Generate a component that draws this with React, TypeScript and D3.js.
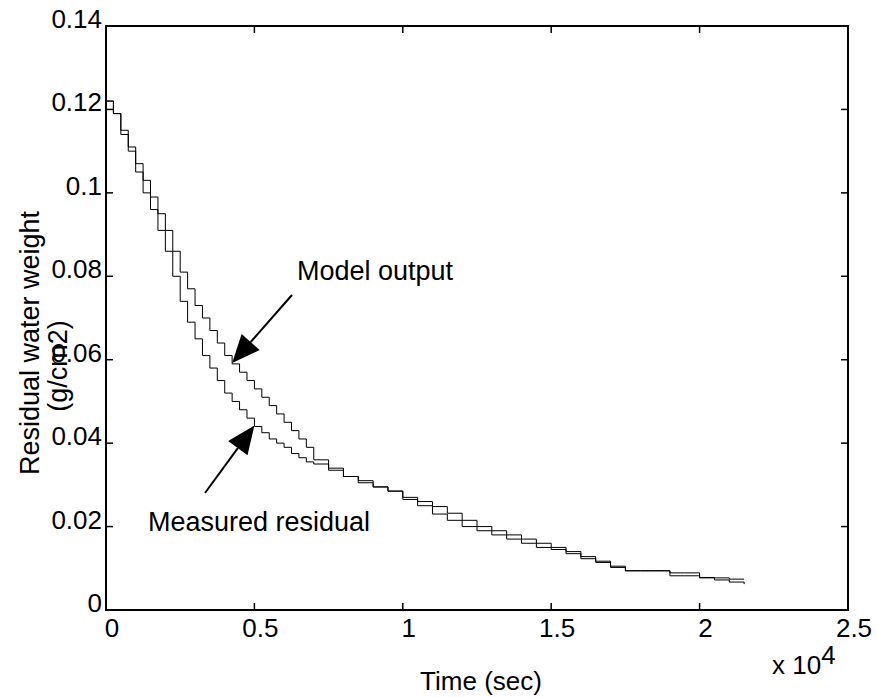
import { useEffect, useRef } from "react";
import * as d3 from "d3";

// time in seconds
const time = [
  0, 250, 500, 750, 1000, 1250, 1500, 1750, 2000, 2250, 2500, 2750, 3000, 3250, 3500, 3750,
  4000, 4250, 4500, 4750, 5000, 5250, 5500, 5750, 6000, 6250, 6500, 6750, 7000, 7500, 8000,
  8500, 9000, 9500, 10000, 10500, 11000, 11500, 12000, 12500, 13000, 13500, 14000, 14500,
  15000, 15500, 16000, 16500, 17000, 17500, 18000, 18500, 19000, 19500, 20000, 20500, 21000,
  21500,
];

const modelOutput = [
  0.122, 0.119, 0.115, 0.111, 0.107, 0.103, 0.099, 0.095, 0.091, 0.086, 0.081, 0.077, 0.073,
  0.07, 0.067, 0.064, 0.061, 0.059, 0.057, 0.055, 0.053, 0.051, 0.049, 0.047, 0.045, 0.043,
  0.041, 0.039, 0.036, 0.034, 0.032, 0.031, 0.0295, 0.0285, 0.027, 0.026, 0.0248, 0.0232,
  0.0215, 0.02, 0.019, 0.018, 0.017, 0.016, 0.015, 0.014, 0.0128, 0.0117, 0.0105, 0.0094,
  0.0094, 0.0094, 0.0089, 0.0089, 0.0078, 0.0077, 0.0074, 0.0074,
];

const measuredResidual = [
  0.122, 0.119, 0.114, 0.11, 0.105, 0.1, 0.096, 0.091, 0.086, 0.08, 0.074, 0.069, 0.065,
  0.061, 0.058, 0.055, 0.052, 0.05, 0.048, 0.046, 0.044, 0.0425, 0.041, 0.04, 0.039, 0.0375,
  0.0365, 0.0355, 0.035, 0.0335, 0.032, 0.0305, 0.0295, 0.0285, 0.0265, 0.025, 0.023, 0.0215,
  0.02, 0.019, 0.018, 0.017, 0.016, 0.015, 0.0145, 0.0135, 0.0123, 0.0114, 0.0102, 0.0094,
  0.0094, 0.0094, 0.0082, 0.0082, 0.0077, 0.0072, 0.0067, 0.0062,
];

const xTicks = [0, 5000, 10000, 15000, 20000, 25000];
const xTickLabels = ["0", "0.5", "1", "1.5", "2", "2.5"];
const yTicks = [0, 0.02, 0.04, 0.06, 0.08, 0.1, 0.12, 0.14];
const yTickLabels = ["0", "0.02", "0.04", "0.06", "0.08", "0.1", "0.12", "0.14"];

const FONT = "Liberation Sans, Arial, sans-serif";

export default function App() {
  const ref = useRef<SVGSVGElement>(null);

  useEffect(() => {
    const svg = d3.select(ref.current);
    svg.selectAll("*").remove();

    const M = { LEFT: 106, RIGHT: 848, TOP: 26, BOTTOM: 610 };
    const x = d3.scaleLinear().domain([0, 25000]).range([M.LEFT, M.RIGHT]);
    const y = d3.scaleLinear().domain([0, 0.14]).range([M.BOTTOM, M.TOP]);
    const fs = 26;
    const fsNote = 27;

    // curves
    const line = d3
      .line<number>()
      .x((_, i) => x(time[i]))
      .y((d) => y(d))
      .curve(d3.curveStepAfter);

    [modelOutput, measuredResidual].forEach((s) => {
      svg
        .append("path")
        .datum(s)
        .attr("fill", "none")
        .attr("stroke", "#000")
        .attr("stroke-width", 1)
        .attr("d", line);
    });

    // box
    svg
      .append("rect")
      .attr("x", M.LEFT)
      .attr("y", M.TOP)
      .attr("width", M.RIGHT - M.LEFT)
      .attr("height", M.BOTTOM - M.TOP)
      .attr("fill", "none")
      .attr("stroke", "#000")
      .attr("stroke-width", 2);

    const tickLen = 7;
    xTicks.forEach((t, i) => {
      svg.append("line").attr("x1", x(t)).attr("x2", x(t)).attr("y1", M.BOTTOM).attr("y2", M.BOTTOM - tickLen).attr("stroke", "#000").attr("stroke-width", 1.5);
      svg.append("line").attr("x1", x(t)).attr("x2", x(t)).attr("y1", M.TOP).attr("y2", M.TOP + tickLen).attr("stroke", "#000").attr("stroke-width", 1.5);
      svg
        .append("text")
        .attr("x", x(t) + 6)
        .attr("y", M.BOTTOM + 27)
        .attr("text-anchor", "middle")
        .attr("font-family", FONT)
        .attr("font-size", fs)
        .text(xTickLabels[i]);
    });

    yTicks.forEach((t, i) => {
      svg.append("line").attr("x1", M.LEFT).attr("x2", M.LEFT + tickLen).attr("y1", y(t)).attr("y2", y(t)).attr("stroke", "#000").attr("stroke-width", 1.5);
      svg.append("line").attr("x1", M.RIGHT).attr("x2", M.RIGHT - tickLen).attr("y1", y(t)).attr("y2", y(t)).attr("stroke", "#000").attr("stroke-width", 1.5);
      svg
        .append("text")
        .attr("x", M.LEFT - 4)
        .attr("y", y(t) + 2)
        .attr("text-anchor", "end")
        .attr("font-family", FONT)
        .attr("font-size", fs)
        .text(yTickLabels[i]);
    });

    // exponent
    const ex = svg
      .append("text")
      .attr("x", 772)
      .attr("y", 674)
      .attr("font-family", FONT)
      .attr("font-size", fs);
    ex.append("tspan").text("x 10");
    ex.append("tspan").attr("dy", -10).text("4");

    // axis labels
    svg
      .append("text")
      .attr("x", 481)
      .attr("y", 690)
      .attr("text-anchor", "middle")
      .attr("font-family", FONT)
      .attr("font-size", fs)
      .text("Time (sec)");

    svg
      .append("text")
      .attr("transform", "translate(39,343) rotate(-90)")
      .attr("text-anchor", "middle")
      .attr("font-family", FONT)
      .attr("font-size", fsNote)
      .text("Residual water weight");
    svg
      .append("text")
      .attr("transform", "translate(67,366) rotate(-90)")
      .attr("text-anchor", "middle")
      .attr("font-family", FONT)
      .attr("font-size", fsNote)
      .text("(g/cm2)");

    // annotations
    const arrow = (x1: number, y1: number, x2: number, y2: number) => {
      const ang = Math.atan2(y2 - y1, x2 - x1);
      const hl = 28;
      const hw = 12;
      const bx = x2 - hl * Math.cos(ang);
      const by = y2 - hl * Math.sin(ang);
      svg.append("line").attr("x1", x1).attr("y1", y1).attr("x2", bx).attr("y2", by).attr("stroke", "#000").attr("stroke-width", 2);
      const px = -Math.sin(ang) * hw;
      const py = Math.cos(ang) * hw;
      svg
        .append("path")
        .attr("d", `M${x2},${y2}L${bx + px},${by + py}L${bx - px},${by - py}Z`)
        .attr("fill", "#000");
    };

    svg.append("text").attr("x", 297).attr("y", 280).attr("font-family", FONT).attr("font-size", fsNote).text("Model output");
    arrow(292, 295, x(4250), y(0.0592));

    svg.append("text").attr("x", 148).attr("y", 531).attr("font-family", FONT).attr("font-size", fsNote).text("Measured residual");
    arrow(205, 493, x(5000), y(0.0442));
  }, []);

  return (
    <svg
      ref={ref}
      width={878}
      height={697}
      style={{ position: "absolute", left: 0, top: 0, background: "#fff" }}
    />
  );
}
